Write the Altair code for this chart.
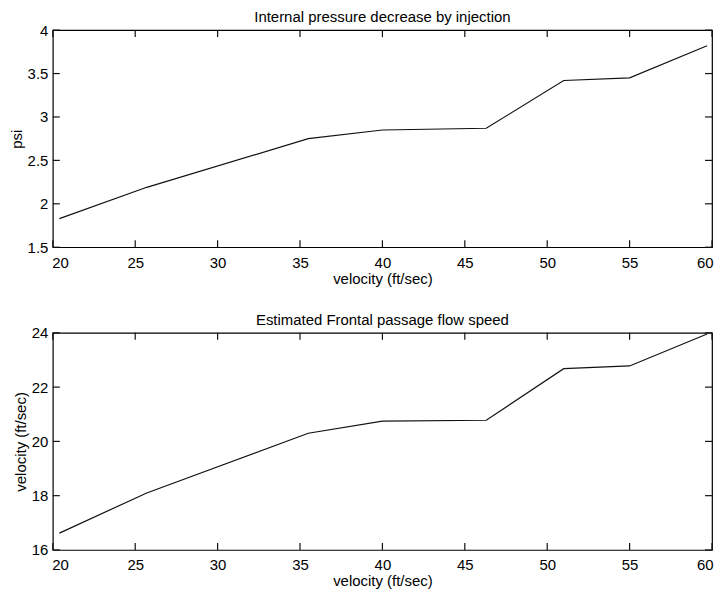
import altair as alt
import pandas as pd

# ---- data ----
vel_top = [20.4, 25.7, 35.5, 40.0, 46.3, 51.0, 55.0, 59.7]
psi_top = [1.83, 2.19, 2.75, 2.85, 2.87, 3.42, 3.45, 3.82]

vel_bot = [20.4, 25.7, 35.5, 40.0, 46.3, 51.0, 55.0, 59.7]
flow_bot = [16.62, 18.10, 20.30, 20.75, 20.78, 22.68, 22.78, 23.96]

x_ticks = [20, 25, 30, 35, 40, 45, 50, 55, 60]
y_ticks_top = [1.5, 2, 2.5, 3, 3.5, 4]
y_ticks_bot = [16, 18, 20, 22, 24]

W, H = 662, 218
TICK = 7  # inward tick length in pixels
FONT = "Liberation Sans"
X_DOMAIN = [20, 60]


def panel(xs, ys, yticks, ydomain, ytitle, title):
    xscale = alt.Scale(domain=X_DOMAIN, nice=False, zero=False)
    yscale = alt.Scale(domain=ydomain, nice=False, zero=False)

    # main series
    rows = [{"g": "main", "v": a, "y": b} for a, b in zip(xs, ys)]

    # inward tick segments (2 points each), tick length = TICK pixels
    dy = TICK * (ydomain[1] - ydomain[0]) / H
    dx = TICK * (X_DOMAIN[1] - X_DOMAIN[0]) / W
    for i, t in enumerate(x_ticks):
        rows += [{"g": f"tt{i}", "v": t, "y": ydomain[1]},
                 {"g": f"tt{i}", "v": t, "y": ydomain[1] - dy},
                 {"g": f"tb{i}", "v": t, "y": ydomain[0]},
                 {"g": f"tb{i}", "v": t, "y": ydomain[0] + dy}]
    for i, t in enumerate(yticks):
        rows += [{"g": f"tl{i}", "v": X_DOMAIN[0], "y": t},
                 {"g": f"tl{i}", "v": X_DOMAIN[0] + dx, "y": t},
                 {"g": f"tr{i}", "v": X_DOMAIN[1] - dx, "y": t},
                 {"g": f"tr{i}", "v": X_DOMAIN[1], "y": t}]
    df = pd.DataFrame(rows)

    x_bottom = alt.Axis(orient="bottom", values=x_ticks, title="velocity (ft/sec)",
                        format="~g", labelFlush=True, labelFlushOffset=1,
                        labelPadding=8, titlePadding=1, ticks=False,
                        domain=False, grid=False)
    y_left = alt.Axis(orient="left", values=yticks, title=ytitle, format="~g",
                      labelPadding=5, titlePadding=3, ticks=False,
                      domain=False, grid=False)

    return alt.Chart(df).mark_line(color="#111111", strokeWidth=1.2).encode(
        x=alt.X("v:Q", scale=xscale, axis=x_bottom),
        y=alt.Y("y:Q", scale=yscale, axis=y_left),
        detail="g:N",
    ).properties(
        width=W, height=H,
        title=alt.TitleParams(title, anchor="middle", fontSize=15, font=FONT,
                              fontWeight="normal", color="black", offset=-2),
    )


p1 = panel(vel_top, psi_top, y_ticks_top, [1.5, 4], "psi",
           "Internal pressure decrease by injection")
p2 = panel(vel_bot, flow_bot, y_ticks_bot, [16, 24], "velocity (ft/sec)",
           "Estimated Frontal passage flow speed")

chart = alt.vconcat(p1, p2, spacing=25).properties(
    padding={"left": 0, "top": 0, "right": 0, "bottom": 0},
    background="white",
).configure_view(
    stroke="black", strokeWidth=1.2
).configure_axis(
    labelFont=FONT, labelFontSize=15, labelColor="black",
    titleFont=FONT, titleFontSize=15, titleColor="black", titleFontWeight="normal",
)

chart.save("out.html", embed_options={"renderer": "svg", "actions": False})
